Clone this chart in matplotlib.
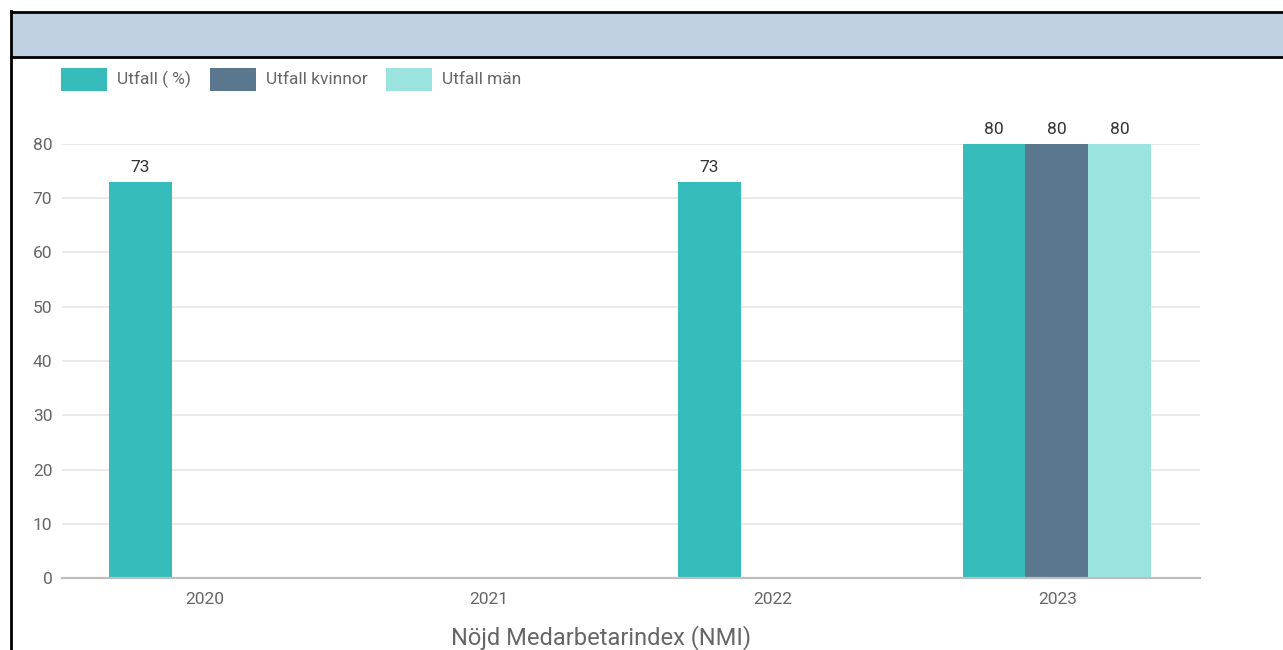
import numpy as np
import matplotlib
matplotlib.use("Agg")
import matplotlib.pyplot as plt
from matplotlib.patches import Rectangle
from matplotlib.lines import Line2D

plt.rcParams['font.family'] = ['Roboto', 'DejaVu Sans']

# Data
years = ["2020", "2021", "2022", "2023"]
series_names = ["Utfall ( %)", "Utfall kvinnor", "Utfall män"]
utfall = [73, np.nan, 73, 80]
utfall_kvinnor = [np.nan, np.nan, np.nan, 80]
utfall_man = [np.nan, np.nan, np.nan, 80]
series = [utfall, utfall_kvinnor, utfall_man]
colors = ["#37bcbc", "#5b778e", "#9be3de"]
yticks = [0, 10, 20, 30, 40, 50, 60, 70, 80]
x_title = "Nöjd Medarbetarindex (NMI)"

W, H = 1283, 650
fig = plt.figure(figsize=(W / 100, H / 100), dpi=100)

# header band and frame
fig.patches.append(Rectangle((11 / W, 1 - 57 / H), 1 - 11 / W, 45 / H,
                             transform=fig.transFigure, facecolor="#c0d1e2",
                             edgecolor="none", zorder=0))
fig.lines.append(Line2D([11 / W, 1], [1 - 12 / H, 1 - 12 / H], transform=fig.transFigure,
                        color="black", lw=2))
fig.lines.append(Line2D([11 / W, 1], [1 - 57 / H, 1 - 57 / H], transform=fig.transFigure,
                        color="black", lw=2))
fig.lines.append(Line2D([11 / W, 11 / W], [0, 1 - 11 / H], transform=fig.transFigure,
                        color="black", lw=2))

ax = fig.add_axes([62 / W, 1 - 578 / H, (1200 - 62) / W, (578 - 144) / H])

x = np.arange(len(years))
w = 0.221
for i, (vals, c) in enumerate(zip(series, colors)):
    pos = x + (i - 1) * w - 0.003
    ax.bar(pos, vals, width=w, color=c, zorder=2)
    for p, v in zip(pos, vals):
        if not np.isnan(v):
            ax.text(p, v + 1.3, f"{v:.0f}", ha="center", va="bottom",
                    fontsize=12.5, color="#333333")

ax.set_xlim(-0.5, 3.5)
ax.set_ylim(0, 80)
ax.set_xticks(x)
ax.set_xticklabels(years)
ax.set_yticks(yticks)
ax.grid(axis="y", color="#e8e8e8", lw=1.3, zorder=0)
for s in ["top", "right", "left"]:
    ax.spines[s].set_visible(False)
ax.spines["bottom"].set_color("#bdbdbd")
ax.spines["bottom"].set_linewidth(1.6)
ax.spines["bottom"].set_zorder(3)
ax.tick_params(axis="both", length=0, labelsize=12.5, labelcolor="#666666")
ax.tick_params(axis="x", pad=10)
ax.tick_params(axis="y", pad=7)

fig.text(601 / W, 1 - 638 / H, x_title, ha="center", va="center",
         fontsize=17, color="#666666")

# legend
legend_x = [61, 210, 386]
for name, c, lx in zip(series_names, colors, legend_x):
    fig.patches.append(Rectangle((lx / W, 1 - 91 / H), 46 / W, 23 / H,
                                 transform=fig.transFigure, facecolor=c,
                                 edgecolor="none"))
    fig.text((lx + 56) / W, 1 - 79.5 / H, name, ha="left", va="center",
             fontsize=12.5, color="#666666")

fig.savefig("out.png", dpi=100)
